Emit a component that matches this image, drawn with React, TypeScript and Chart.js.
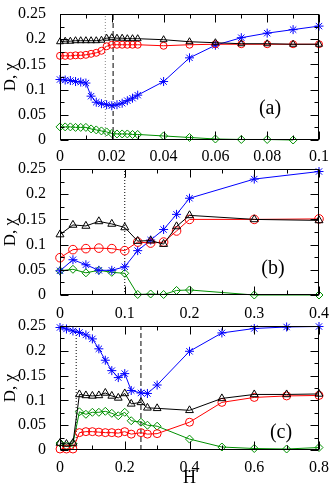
import React, { useEffect, useRef } from "react";
import { Chart, registerables } from "chart.js";

Chart.register(...registerables);

const FONT = "'Liberation Serif', 'Times New Roman', serif";
const GREEN = "#009000";

// ---------- Panel (a) ----------
const hA = [0, 0.002, 0.004, 0.006, 0.008, 0.01, 0.012, 0.014, 0.016, 0.018, 0.02, 0.022, 0.024, 0.026, 0.028, 0.03, 0.04, 0.05, 0.06, 0.07, 0.08, 0.09, 0.1];
const triA = [0.195, 0.196, 0.196, 0.197, 0.197, 0.197, 0.197, 0.197, 0.198, 0.202, 0.203, 0.202, 0.202, 0.201, 0.201, 0.201, 0.199, 0.195, 0.193, 0.191, 0.191, 0.19, 0.19];
const circA = [0.167, 0.167, 0.167, 0.168, 0.168, 0.169, 0.171, 0.173, 0.177, 0.186, 0.189, 0.189, 0.189, 0.189, 0.189, 0.189, 0.187, 0.189, 0.19, 0.19, 0.19, 0.19, 0.19];
const starA = [0.120, 0.119, 0.118, 0.116, 0.115, 0.113, 0.087, 0.075, 0.072, 0.070, 0.068, 0.070, 0.073, 0.078, 0.083, 0.089, 0.116, 0.163, 0.188, 0.203, 0.212, 0.219, 0.226];
const hAGreen = [0, 0.002, 0.004, 0.006, 0.008, 0.01, 0.012, 0.014, 0.016, 0.018, 0.02, 0.022, 0.024, 0.026, 0.028, 0.03, 0.04, 0.05, 0.06, 0.07, 0.08, 0.09];
const diaA = [0.026, 0.026, 0.026, 0.025, 0.025, 0.025, 0.022, 0.020, 0.018, 0.016, 0.013, 0.012, 0.012, 0.012, 0.011, 0.011, 0.008, 0.005, 0.002, 0.001, 0.001, 0.0];
const xTicksA = [0, 0.02, 0.04, 0.06, 0.08, 0.1];

// ---------- Panel (b) ----------
const hB = [0, 0.02, 0.04, 0.06, 0.08, 0.1, 0.12, 0.14, 0.16, 0.18, 0.2, 0.3, 0.4];
const triB = [0.120, 0.139, 0.137, 0.146, 0.141, 0.134, 0.107, 0.108, 0.101, 0.136, 0.158, 0.150, 0.148];
const circB = [0.074, 0.090, 0.092, 0.093, 0.092, 0.088, 0.105, 0.103, 0.105, 0.127, 0.150, 0.150, 0.151];
const starB = [0.048, 0.070, 0.060, 0.049, 0.049, 0.056, 0.088, 0.109, 0.130, 0.160, 0.192, 0.230, 0.245];
const diaB = [0.048, 0.051, 0.044, 0.049, 0.045, 0.043, 0.001, 0.002, 0.001, 0.009, 0.010, 0.0, 0.0];
const xTicksB = [0, 0.1, 0.2, 0.3, 0.4];

// ---------- Panel (c) ----------
const hC = [0, 0.02, 0.04, 0.06, 0.08, 0.1, 0.12, 0.14, 0.16, 0.18, 0.2, 0.22, 0.25, 0.27, 0.3, 0.4, 0.5, 0.6, 0.7, 0.8];
const triC = [0.014, 0.012, 0.014, 0.112, 0.110, 0.109, 0.110, 0.115, 0.109, 0.105, 0.114, 0.093, 0.096, 0.085, 0.084, 0.080, 0.104, 0.112, 0.112, 0.113];
const circC = [0.002, 0.002, 0.002, 0.035, 0.037, 0.037, 0.036, 0.035, 0.035, 0.034, 0.037, 0.032, 0.035, 0.032, 0.033, 0.056, 0.096, 0.106, 0.109, 0.110];
const starC = [0.247, 0.244, 0.240, 0.237, 0.232, 0.224, 0.204, 0.181, 0.160, 0.146, 0.154, 0.120, 0.115, 0.114, 0.131, 0.199, 0.236, 0.245, 0.248, 0.249];
const diaC = [0.014, 0.008, 0.013, 0.077, 0.072, 0.076, 0.076, 0.078, 0.074, 0.069, 0.076, 0.059, 0.056, 0.050, 0.048, 0.022, 0.006, 0.003, 0.002, 0.005];
const xTicksC = [0, 0.2, 0.4, 0.6, 0.8];

const yTicks = [0, 0.05, 0.1, 0.15, 0.2, 0.25];
const panelLabels = ["(a)", "(b)", "(c)"];
const yTitle = "D, χ";
const xTitle = "H";

type VLine = { x: number; color: string; dash: number[] };

const toPts = (xs: number[], ys: number[]) => xs.map((x, i) => ({ x, y: ys[i] }));

const framePlugin = {
  id: "frame",
  afterDraw(chart: any, _args: any, opts: any) {
    const { ctx, chartArea } = chart;
    const { left, right, top, bottom } = chartArea;
    const xs = chart.scales.x;
    const ys = chart.scales.y;
    ctx.save();
    ctx.strokeStyle = "#000";
    ctx.lineWidth = 1;
    const L = Math.round(left) + 0.5;
    const R = Math.round(right) - 0.5;
    const T = Math.round(top) + 0.5;
    const B = Math.round(bottom) - 0.5;
    ctx.strokeRect(L, T, R - L, B - T);
    const MAJ = 8;
    const MIN = 4;
    const drawX = (v: number, len: number) => {
      const p = Math.round(xs.getPixelForValue(v)) + 0.5;
      ctx.beginPath();
      ctx.moveTo(p, B);
      ctx.lineTo(p, B - len);
      ctx.moveTo(p, T);
      ctx.lineTo(p, T + len);
      ctx.stroke();
    };
    const drawY = (v: number, len: number) => {
      const p = Math.round(ys.getPixelForValue(v)) + 0.5;
      ctx.beginPath();
      ctx.moveTo(L, p);
      ctx.lineTo(L + len, p);
      ctx.moveTo(R, p);
      ctx.lineTo(R - len, p);
      ctx.stroke();
    };
    const xt: number[] = opts.xTicks;
    xt.forEach((v, i) => {
      drawX(v, MAJ);
      if (i < xt.length - 1) drawX((v + xt[i + 1]) / 2, MIN);
    });
    yTicks.forEach((v, i) => {
      drawY(v, MAJ);
      if (i < yTicks.length - 1) drawY((v + yTicks[i + 1]) / 2, MIN);
    });
    ctx.fillStyle = "#000";
    ctx.font = `20px ${FONT}`;
    ctx.textAlign = "center";
    ctx.textBaseline = "middle";
    ctx.fillText(opts.label, left + opts.dx, top + opts.dy);
    ctx.restore();
  },
};

type PanelProps = {
  top: number;
  height: number;
  xAxisH: number;
  xMax: number;
  xTicks: number[];
  h: number[];
  tri: number[];
  circ: number[];
  star: number[];
  hGreen: number[];
  dia: number[];
  vlines: VLine[];
  label: string;
  dx: number;
  dy: number;
  tickPad: number;
  showXTitle: boolean;
  rTri: number;
  rCirc: number;
};

function Panel(p: PanelProps) {
  const ref = useRef<HTMLCanvasElement>(null);
  useEffect(() => {
    if (!ref.current) return;
    const marker = (style: string, color: string, r: number) => ({
      showLine: true,
      borderColor: color,
      backgroundColor: "rgba(0,0,0,0)",
      borderWidth: 1,
      pointStyle: style,
      pointRadius: r,
      pointBorderColor: color,
      pointBackgroundColor: "rgba(0,0,0,0)",
      pointBorderWidth: 1,
      clip: false as any,
    });
    const datasets: any[] = [
      { data: toPts(p.h, p.tri), ...marker("triangle", "#000000", p.rTri) },
      { data: toPts(p.h, p.circ), ...marker("circle", "#ff0000", p.rCirc) },
      { data: toPts(p.h, p.star), ...marker("star", "#0000ff", 4.5) },
      { data: toPts(p.hGreen, p.dia), ...marker("rectRot", GREEN, 4) },
      ...p.vlines.map((v) => ({
        data: [
          { x: v.x, y: 0 },
          { x: v.x, y: 0.25 },
        ],
        showLine: true,
        borderColor: v.color,
        borderDash: v.dash,
        borderWidth: 1,
        pointRadius: 0,
      })),
    ];
    const chart = new Chart(ref.current, {
      type: "scatter",
      data: { datasets },
      plugins: [framePlugin as any],
      options: {
        animation: false,
        responsive: false,
        events: [],
        layout: { padding: { top: 8, right: 13, left: 0, bottom: 0 } },
        plugins: {
          legend: { display: false },
          tooltip: { enabled: false },
          frame: { xTicks: p.xTicks, label: p.label, dx: p.dx, dy: p.dy },
        } as any,
        scales: {
          x: {
            type: "linear",
            min: 0,
            max: p.xMax,
            grid: { display: false },
            border: { display: false },
            afterBuildTicks: (s: any) => {
              s.ticks = p.xTicks.map((v) => ({ value: v }));
            },
            afterFit: (s: any) => {
              s.height = p.xAxisH;
            },
            ticks: {
              font: { family: FONT, size: 16, lineHeight: 1 },
              color: "#000",
              padding: p.tickPad,
              maxRotation: 0,
              autoSkip: false,
              callback: (v: any) => String(v),
            },
            title: {
              display: p.showXTitle,
              text: xTitle,
              color: "#000",
              font: { family: FONT, size: 18 },
              padding: 0,
            },
          },
          y: {
            type: "linear",
            min: 0,
            max: 0.25,
            grid: { display: false },
            border: { display: false },
            afterBuildTicks: (s: any) => {
              s.ticks = yTicks.map((v) => ({ value: v }));
            },
            afterFit: (s: any) => {
              s.width = 60;
            },
            ticks: {
              font: { family: FONT, size: 16, lineHeight: 1 },
              color: "#000",
              padding: 6,
              autoSkip: false,
              callback: (v: any) => String(v),
            },
            title: {
              display: true,
              text: yTitle,
              color: "#000",
              font: { family: FONT, size: 17 },
              padding: 0,
            },
          },
        },
      } as any,
    });
    return () => chart.destroy();
  }, []);
  return (
    <canvas
      ref={ref}
      width={332}
      height={p.height}
      style={{ position: "absolute", left: 0, top: p.top, width: 332, height: p.height }}
    />
  );
}

export default function App() {
  return (
    <div style={{ position: "fixed", left: 0, top: 0, width: 332, height: 489, background: "#fff" }}>
      <Panel
        top={0}
        height={170}
        xAxisH={30}
        xMax={0.1}
        xTicks={xTicksA}
        h={hA}
        tri={triA}
        circ={circA}
        star={starA}
        hGreen={hAGreen}
        dia={diaA}
        vlines={[
          { x: 0.0175, color: "#888888", dash: [1, 2] },
          { x: 0.0205, color: "#000000", dash: [5, 3] },
        ]}
        label={panelLabels[0]}
        dx={210}
        dy={95}
        tickPad={1}
        showXTitle={false}
        rTri={4}
        rCirc={3.5}
      />
      <Panel
        top={155}
        height={170}
        xAxisH={30}
        xMax={0.4}
        xTicks={xTicksB}
        h={hB}
        tri={triB}
        circ={circB}
        star={starB}
        hGreen={hB}
        dia={diaB}
        vlines={[{ x: 0.1, color: "#000000", dash: [1, 2] }]}
        label={panelLabels[1]}
        dx={213}
        dy={100}
        tickPad={3}
        showXTitle={false}
        rTri={4.6}
        rCirc={4.3}
      />
      <Panel
        top={312}
        height={177}
        xAxisH={39}
        xMax={0.8}
        xTicks={xTicksC}
        h={hC}
        tri={triC}
        circ={circC}
        star={starC}
        hGreen={hC}
        dia={diaC}
        vlines={[
          { x: 0.05, color: "#000000", dash: [1, 2] },
          { x: 0.25, color: "#000000", dash: [5, 3] },
        ]}
        label={panelLabels[2]}
        dx={221}
        dy={107}
        tickPad={2}
        showXTitle={true}
        rTri={4.5}
        rCirc={4}
      />
    </div>
  );
}
